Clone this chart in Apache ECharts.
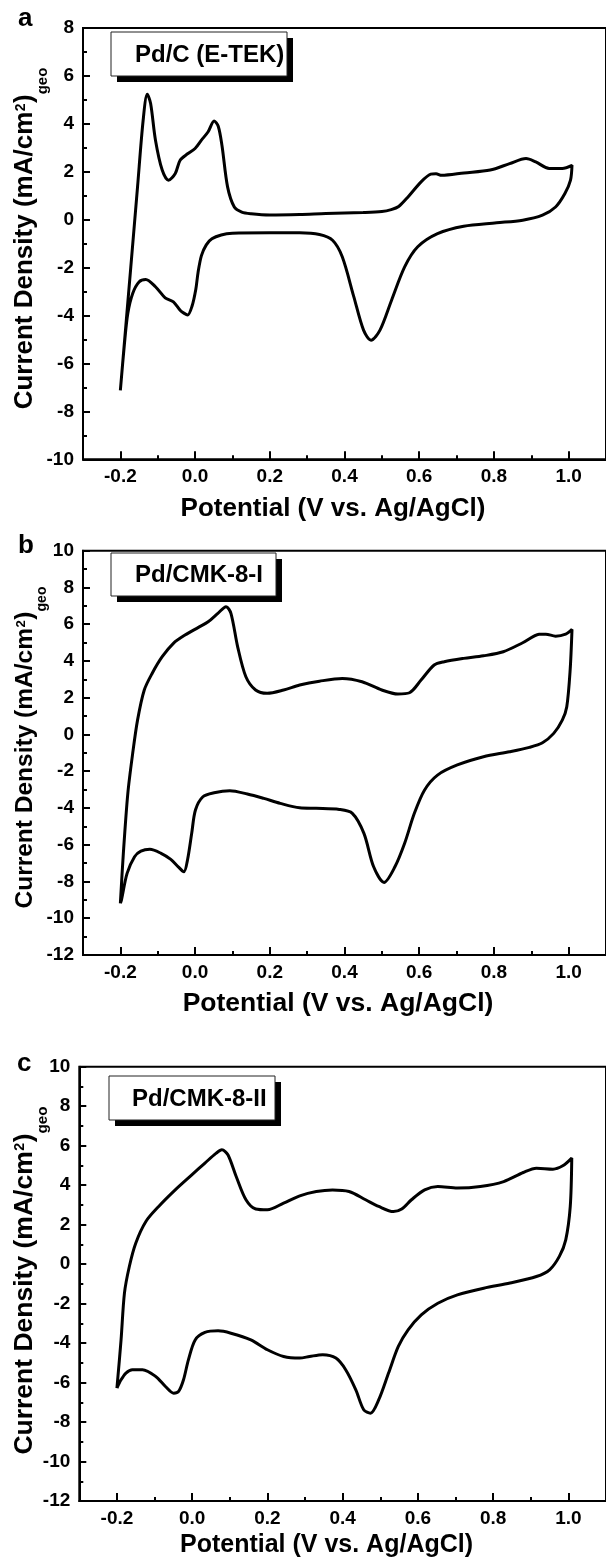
<!DOCTYPE html>
<html><head><meta charset="utf-8">
<script src="https://cdn.jsdelivr.net/npm/echarts@6/dist/echarts.min.js"></script>
<style>html,body{margin:0;padding:0;background:#fff}#c{width:606px;height:1563px}</style>
</head><body><div id="c"></div>
<script>
// ---------- data ----------
const xTickLabels = [-0.2, 0, 0.2, 0.4, 0.6, 0.8, 1.0];
const xMinorTicks = [-0.1, 0.1, 0.3, 0.5, 0.7, 0.9];
const panelLetters = ['a', 'b', 'c'];
const legendNames = ['Pd/C (E-TEK)', 'Pd/CMK-8-I', 'Pd/CMK-8-II'];
const xTitle = 'Potential (V vs. Ag/AgCl)';
const yTitleMain = 'Current Density (mA/cm';
const yTitleSup = '2';
const yTitleClose = ')';
const yTitleSub = 'geo';
const yRangeA = [-10, 8];
const yRangeB = [-12, 10];
const yRangeC = [-12, 10];

// Panel a: Pd/C (E-TEK)
const potentialA = [-0.2, -0.172, -0.154, -0.139, -0.128, -0.119, -0.106, -0.088, -0.071, -0.053, -0.04, -0.02, 0.0, 0.017, 0.035, 0.051, 0.062, 0.072, 0.087, 0.105, 0.125, 0.15, 0.2, 0.28, 0.35, 0.45, 0.5, 0.525, 0.545, 0.57, 0.605, 0.631, 0.645, 0.66, 0.72, 0.79, 0.842, 0.886, 0.912, 0.948, 0.983, 1.009,
  1.005, 0.99, 0.965, 0.93, 0.877, 0.807, 0.719, 0.649, 0.596, 0.561, 0.526, 0.495, 0.471, 0.451, 0.425, 0.394, 0.368, 0.333, 0.28, 0.2, 0.1, 0.07, 0.045, 0.03, 0.017, 0.008, 0.002, -0.008, -0.02, -0.03, -0.04, -0.058, -0.08, -0.106, -0.132, -0.15, -0.167, -0.18, -0.189, -0.2];
const currentA = [-7.12, -1.97, 1.37, 4.15, 5.23, 4.85, 3.32, 2.07, 1.65, 1.93, 2.48, 2.75, 2.97, 3.32, 3.67, 4.12, 3.9, 3.1, 1.37, 0.53, 0.32, 0.25, 0.2, 0.22, 0.26, 0.3, 0.34, 0.42, 0.55, 0.95, 1.58, 1.9, 1.92, 1.85, 1.95, 2.07, 2.34, 2.55, 2.41, 2.14, 2.14, 2.27,
  1.65, 1.09, 0.53, 0.19, -0.02, -0.13, -0.27, -0.58, -1.13, -1.97, -3.36, -4.61, -5.03, -4.61, -3.22, -1.55, -0.86, -0.62, -0.55, -0.55, -0.57, -0.64, -0.8, -1.05, -1.5, -2.2, -2.9, -3.6, -3.98, -3.9, -3.78, -3.43, -3.26, -2.8, -2.5, -2.6, -3.08, -3.91, -5.17, -7.12];

// Panel b: Pd/CMK-8-I
const potentialB = [-0.2, -0.192, -0.18, -0.167, -0.154, -0.136, -0.115, -0.088, -0.058, -0.027, 0.009, 0.035, 0.061, 0.083, 0.096, 0.114, 0.136, 0.162, 0.193, 0.237, 0.28, 0.333, 0.394, 0.447, 0.5, 0.543, 0.574, 0.605, 0.64, 0.667, 0.719, 0.772, 0.825, 0.877, 0.921, 0.939, 0.965, 0.992, 1.009,
  1.004, 0.995, 0.983, 0.96, 0.93, 0.895, 0.842, 0.772, 0.702, 0.649, 0.614, 0.587, 0.561, 0.535, 0.506, 0.478, 0.452, 0.421, 0.386, 0.324, 0.28, 0.228, 0.184, 0.14, 0.093, 0.051, 0.021, 0.001, -0.009, -0.02, -0.03, -0.045, -0.065, -0.091, -0.121, -0.145, -0.162, -0.182, -0.197, -0.2];
const currentB = [-9.19, -6.47, -3.2, -1.03, 0.78, 2.42, 3.32, 4.23, 4.96, 5.41, 5.83, 6.13, 6.59, 6.95, 6.59, 4.77, 3.14, 2.42, 2.24, 2.42, 2.69, 2.9, 3.05, 2.87, 2.42, 2.2, 2.27, 2.96, 3.78, 3.96, 4.14, 4.28, 4.5, 4.99, 5.45, 5.46, 5.35, 5.46, 5.72,
  3.5, 1.51, 0.78, 0.06, -0.45, -0.7, -0.94, -1.21, -1.66, -2.21, -3.03, -4.29, -5.92, -7.2, -8.05, -7.2, -5.38, -4.29, -4.08, -4.02, -3.99, -3.75, -3.48, -3.24, -3.06, -3.17, -3.39, -4.11, -5.38, -6.8, -7.47, -7.2, -6.8, -6.47, -6.25, -6.35, -6.65, -7.56, -9.0, -9.19];

// Panel c: Pd/CMK-8-II
const potentialC = [-0.2, -0.189, -0.18, -0.167, -0.15, -0.123, -0.089, -0.045, -0.001, 0.034, 0.064, 0.079, 0.095, 0.117, 0.143, 0.169, 0.2, 0.243, 0.286, 0.33, 0.373, 0.417, 0.461, 0.496, 0.535, 0.557, 0.583, 0.618, 0.653, 0.705, 0.766, 0.828, 0.88, 0.915, 0.959, 0.985, 1.009,
  1.005, 0.993, 0.976, 0.95, 0.915, 0.845, 0.775, 0.705, 0.653, 0.609, 0.574, 0.548, 0.522, 0.496, 0.474, 0.456, 0.435, 0.408, 0.382, 0.347, 0.312, 0.286, 0.243, 0.2, 0.156, 0.103, 0.069, 0.034, 0.008, -0.01, -0.023, -0.036, -0.049, -0.071, -0.097, -0.132, -0.159, -0.176, -0.189, -0.2];
const currentC = [-6.28, -3.84, -1.47, -0.12, 1.06, 2.16, 2.92, 3.76, 4.52, 5.12, 5.62, 5.79, 5.54, 4.44, 3.26, 2.79, 2.75, 3.09, 3.46, 3.68, 3.76, 3.68, 3.26, 2.92, 2.66, 2.79, 3.26, 3.76, 3.93, 3.85, 3.93, 4.18, 4.64, 4.86, 4.81, 4.98, 5.37,
  2.92, 1.23, 0.39, -0.29, -0.63, -0.96, -1.22, -1.56, -1.98, -2.57, -3.33, -4.17, -5.52, -6.87, -7.55, -7.38, -6.37, -5.35, -4.76, -4.59, -4.68, -4.76, -4.68, -4.34, -3.84, -3.5, -3.38, -3.46, -3.84, -4.85, -5.86, -6.45, -6.54, -6.2, -5.69, -5.35, -5.35, -5.52, -5.86, -6.28];

// ---------- layout / style ----------
const FONT = '"Liberation Sans", Arial, Helvetica, sans-serif';
const layout = [
  { grid: { left: 83, top: 28, width: 531.2, height: 431.3 }, box: [111, 32, 176, 44], textX: 135,
    letter: [18, 19], xt: [333, 508.5, 26], yt: [33.5, 239, 26] },
  { grid: { left: 83, top: 550.7, width: 531.2, height: 404.3 }, box: [111, 553, 165, 43], textX: 135,
    letter: [18, 546], xt: [338, 1004, 26.5], yt: [33.5, 748, 24.5] },
  { grid: { left: 79.3, top: 1066.7, width: 534.4, height: 434.3 }, box: [109, 1076, 166, 44], textX: 132,
    letter: [17, 1064], xt: [326.5, 1545, 25], yt: [33.5, 1281, 26.5] }
];

const series = [[potentialA, currentA], [potentialB, currentB], [potentialC, currentC]];
const yRanges = [yRangeA, yRangeB, yRangeC];

const cv = document.createElement('canvas').getContext('2d');
function tw(txt, size) { cv.font = 'bold ' + size + 'px ' + FONT; return cv.measureText(txt).width; }

const grids = [], xAxes = [], yAxes = [], seriesOpt = [], graphics = [];
layout.forEach((L, i) => {
  grids.push(Object.assign({ show: true, borderColor: '#000', borderWidth: 2, backgroundColor: 'transparent', containLabel: false }, L.grid));
  xAxes.push({
    gridIndex: i, type: 'value', position: 'bottom', min: -0.3, max: 1.1, interval: 0.1,
    axisLine: { show: true, onZero: false, lineStyle: { color: '#000', width: 2 } },
    axisTick: { show: true, inside: true, length: 8, customValues: xTickLabels, lineStyle: { color: '#000', width: 2 } },
    axisLabel: { show: true, customValues: xTickLabels, formatter: v => Number(v).toFixed(1), color: '#000', fontSize: 19, fontWeight: 'bold', fontFamily: FONT, margin: 8 },
    splitLine: { show: false }
  });
  xAxes.push({
    gridIndex: i, type: 'value', position: 'bottom', min: -0.3, max: 1.1, interval: 0.1,
    axisLine: { show: false, onZero: false },
    axisTick: { show: true, inside: true, length: 4, customValues: xMinorTicks, lineStyle: { color: '#000', width: 2 } },
    axisLabel: { show: false },
    splitLine: { show: false }
  });
  yAxes.push({
    gridIndex: i, type: 'value', min: yRanges[i][0], max: yRanges[i][1], interval: 2,
    axisLine: { show: true, onZero: false, lineStyle: { color: '#000', width: 2 } },
    axisTick: { show: true, inside: true, length: 7, lineStyle: { color: '#000', width: 2 } },
    minorTick: { show: true, splitNumber: 2, length: 4, lineStyle: { color: '#000', width: 2 } },
    axisLabel: { color: '#000', fontSize: 19, fontWeight: 'bold', fontFamily: FONT, margin: 9 },
    splitLine: { show: false }, minorSplitLine: { show: false }
  });
  const [px, py] = series[i];
  seriesOpt.push({
    type: 'line', xAxisIndex: 2 * i, yAxisIndex: i, showSymbol: false, smooth: 0.3, clip: false,
    lineStyle: { color: '#000', width: 3 }, silent: true,
    data: px.map((x, k) => [x, py[k]])
  });

  // legend box with shadow
  const [bx, by, bw, bh] = L.box;
  graphics.push({ type: 'rect', shape: { x: bx + 6, y: by + 6, width: bw, height: bh }, style: { fill: '#000' }, z: 10 });
  graphics.push({ type: 'rect', shape: { x: bx, y: by, width: bw, height: bh }, style: { fill: '#fff', stroke: '#222', lineWidth: 1 }, z: 11 });
  graphics.push({ type: 'text', x: L.textX, y: by + bh / 2 + 1, z: 12,
    style: { text: legendNames[i], font: 'bold 24px ' + FONT, fill: '#000', align: 'left', verticalAlign: 'middle', textAlign: 'left', textVerticalAlign: 'middle' } });

  // panel letter
  graphics.push({ type: 'text', x: L.letter[0], y: L.letter[1], z: 12,
    style: { text: panelLetters[i], font: 'bold 26px ' + FONT, fill: '#000', align: 'left', verticalAlign: 'middle', textAlign: 'left', textVerticalAlign: 'middle' } });

  // x title
  graphics.push({ type: 'text', x: L.xt[0], y: L.xt[1], z: 12,
    style: { text: xTitle, font: 'bold ' + L.xt[2] + 'px ' + FONT, fill: '#000', align: 'center', verticalAlign: 'middle', textAlign: 'center', textVerticalAlign: 'middle' } });

  // y title (rotated, with superscript and subscript)
  const F = L.yt[2], k = F / 26, S = 14 * k, G = 15 * k;
  const w1 = tw(yTitleMain, F), w2 = tw(yTitleSup, S), w3 = tw(yTitleClose, F), w4 = tw(yTitleSub, G);
  const total = w1 + w2 + w3 + w4;
  let x0 = -total / 2;
  const mk = (t, size, x, base) => ({ type: 'text', x: x, y: base - 0.34 * size,
    style: { text: t, font: 'bold ' + size + 'px ' + FONT, fill: '#000', align: 'left', verticalAlign: 'middle', textAlign: 'left', textVerticalAlign: 'middle' } });
  graphics.push({ type: 'group', x: L.yt[0], y: L.yt[1], rotation: Math.PI / 2, z: 12, children: [
    mk(yTitleMain, F, x0, 0),
    mk(yTitleSup, S, x0 + w1 + 0.5, -8 * k),
    mk(yTitleClose, F, x0 + w1 + w2 + 1, 0),
    mk(yTitleSub, G, x0 + w1 + w2 + w3 + 1, 14 * k)
  ] });
});

const chart = echarts.init(document.getElementById('c'), null, { renderer: 'canvas' });
chart.setOption({
  animation: false,
  backgroundColor: '#fff',
  grid: grids, xAxis: xAxes, yAxis: yAxes, series: seriesOpt, graphic: graphics
});
</script></body></html>
